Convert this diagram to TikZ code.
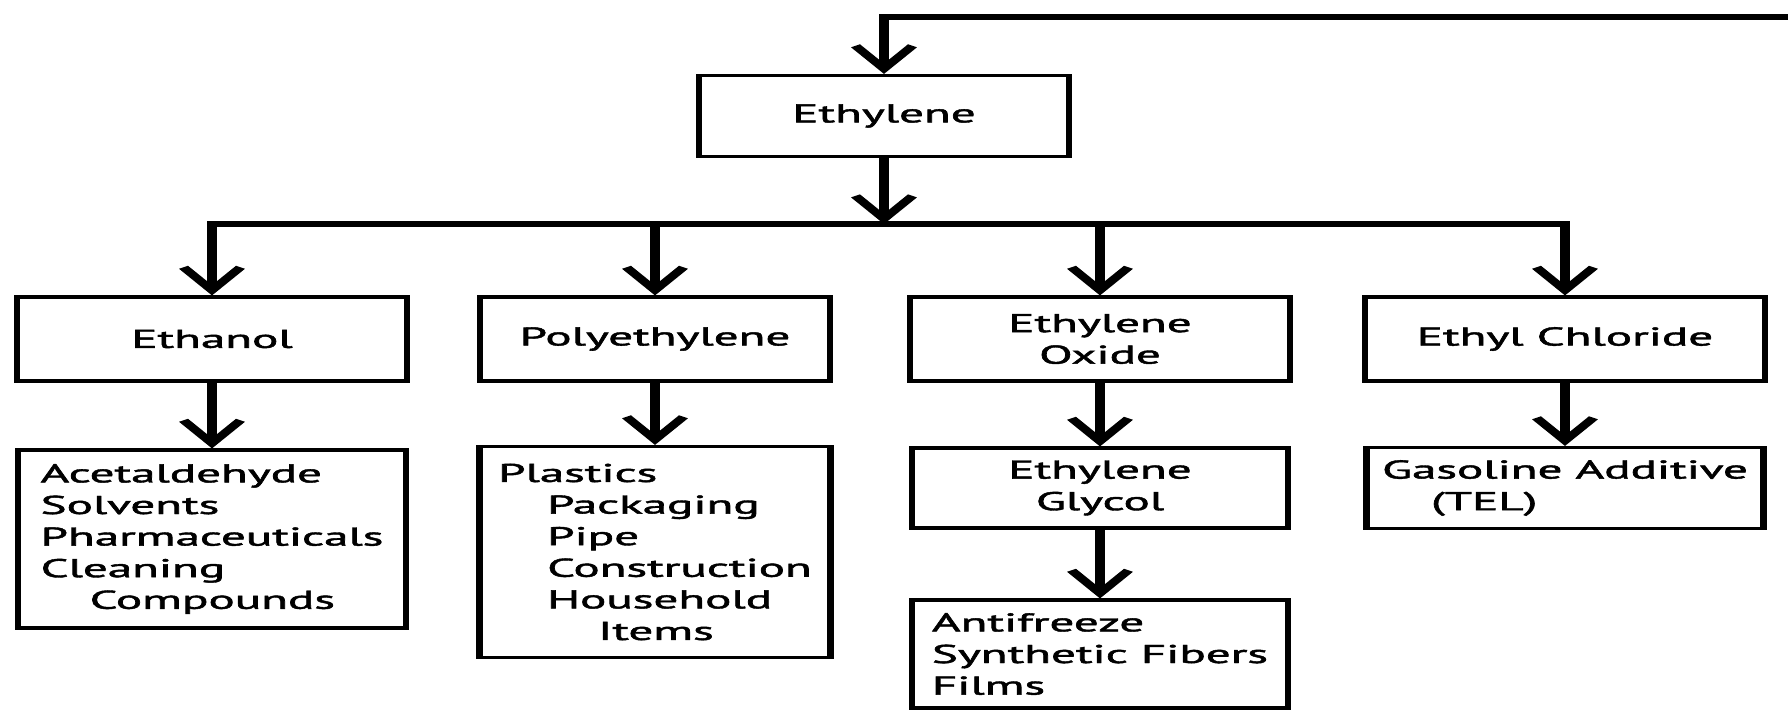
\documentclass[tikz,border=0pt]{standalone}
\usepackage{fontspec}
\setmainfont{PT Sans}[FakeBold=1.5]
\usetikzlibrary{arrows.meta}
\newcommand\dfont{\fontsize{12.9}{15.8}\selectfont}
\begin{document}
\begin{tikzpicture}[x=0.5pt,y=-0.5pt]
\useasboundingbox (0,0) rectangle (1788,709);
\fill[white] (0,0) rectangle (1788,709);
\begin{scope}[transform canvas={xscale=1.9}, x=0.263158pt, y=-0.5pt,
  box/.style={draw, line width=1.6pt, inner sep=0pt, font=\dfont},
  bw/.style={minimum width=#1*0.263158pt},
  bh/.style={minimum height=#1*0.5pt},
  conn/.style={line width=2.8pt, -{Straight Barb[length=11.5pt,width=15pt]}},
  busline/.style={line width=2.8pt, line cap=rect}]
% coordinates
\coordinate (topR) at (1800,17);
\coordinate (busy) at (0,224);
% nodes
\node[box, bw=370, bh=81] (ethylene) at (884,116) {Ethylene};
\node[box, bw=390, bh=84] (ethanol) at (212,339) {Ethanol};
\node[box, bw=350, bh=84] (poly) at (655,339) {Polyethylene};
\node[box, bw=380, bh=84, align=center] (eo) at (1100,339) {Ethylene\\Oxide};
\node[box, bw=400, bh=84] (ec) at (1565,339) {Ethyl Chloride};
\node[box, bw=388, bh=178, align=left] (ethprod) at (212,539)
  {Acetaldehyde\\Solvents\\Pharmaceuticals\\Cleaning\\\hspace*{12.9pt}Compounds};
\node[box, bw=351, bh=211, align=left] (polyprod) at (655,552)
  {Plastics\\\hspace*{12.9pt}Packaging\\\hspace*{12.9pt}Pipe\\\hspace*{12.9pt}Construction\\\hspace*{12.9pt}Household\\\hspace*{26.3pt}Items};
\node[box, bw=376, bh=80, align=center] (glycol) at (1100,488) {Ethylene\\Glycol};
\node[box, bw=376, bh=108, align=left] (films) at (1100,654)
  {Antifreeze\\Synthetic Fibers\\Films};
\node[box, bw=397, bh=81, align=left] (gasoline) at (1565,488)
  {Gasoline Additive\\\hspace*{12.9pt}(TEL)};
% connectors
\draw[conn] (topR) -| (ethylene.north);
\draw[conn] (ethylene.south) -- (ethylene.south |- busy);
\draw[busline] (ethanol.north |- busy) -- (ec.north |- busy);
\foreach \n in {ethanol,poly,eo,ec} \draw[conn] (\n.north |- busy) -- (\n.north);
\draw[conn] (ethanol.south) -- (ethprod.north);
\draw[conn] (poly.south) -- (polyprod.north);
\draw[conn] (eo.south) -- (glycol.north);
\draw[conn] (glycol.south) -- (films.north);
\draw[conn] (ec.south) -- (gasoline.north);
\end{scope}
\end{tikzpicture}
\end{document}
